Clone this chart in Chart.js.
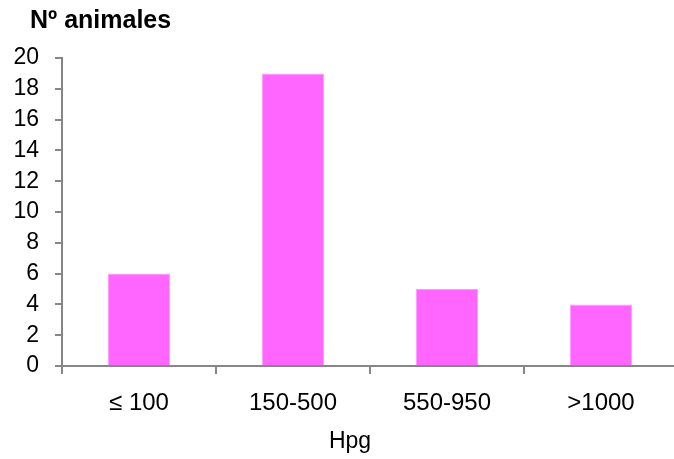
<!DOCTYPE html>
<html>
<head>
<meta charset="utf-8">
<script src="https://cdn.jsdelivr.net/npm/chart.js@4/dist/chart.umd.min.js"></script>
<style>
  html, body { margin: 0; padding: 0; background: #fff; overflow: hidden; }
  #wrap { width: 674px; height: 459px; overflow: hidden; }
</style>
</head>
<body>
<div id="wrap"><canvas id="chart" width="678" height="459"></canvas></div>
<script>
const categories = ['\u2264 100', '150-500', '550-950', '>1000'];
const animals = [6, 19, 5, 4];
const yTicks = [0, 2, 4, 6, 8, 10, 12, 14, 16, 18, 20];

const FONT = '"Liberation Sans", Arial, sans-serif';
const AXIS_GREY = '#868686';

// titles drawn by hand so they sit where the original had them
const titlesPlugin = {
    id: 'titles',
    afterDraw(chart) {
        const ctx = chart.ctx;
        const area = chart.chartArea;
        ctx.save();
        ctx.fillStyle = '#000';
        ctx.textBaseline = 'alphabetic';
        ctx.textAlign = 'left';
        ctx.font = 'bold 25px ' + FONT;
        ctx.fillText('N\u00ba animales', 30, 28);
        ctx.textAlign = 'center';
        ctx.font = '23px ' + FONT;
        ctx.fillText('Hpg', area.left + 288, area.bottom + 82);
        ctx.restore();
    }
};

new Chart(document.getElementById('chart'), {
    type: 'bar',
    data: {
        labels: categories,
        datasets: [{
            data: animals,
            backgroundColor: '#ff66ff',
            borderColor: '#ff99ff',
            borderWidth: 1,
            barPercentage: 1,
            categoryPercentage: 0.405,
        }],
    },
    options: {
        responsive: false,
        animation: false,
        layout: { padding: { top: 58, right: 0, left: 0, bottom: 0 } },
        plugins: {
            legend: { display: false },
            tooltip: { enabled: false },
        },
        scales: {
            x: {
                grid: {
                    display: true,
                    drawOnChartArea: false,
                    offset: true,
                    tickLength: 8,
                    color: AXIS_GREY,
                    lineWidth: 2,
                },
                border: { color: AXIS_GREY, width: 2 },
                ticks: {
                    color: '#000',
                    padding: 15,
                    font: { family: FONT, size: 24 },
                    maxRotation: 0,
                },
                afterFit(scale) { scale.height = 93; },
            },
            y: {
                min: 0,
                max: 20,
                afterBuildTicks(scale) { scale.ticks = yTicks.map(v => ({ value: v })); },
                grid: {
                    display: true,
                    drawOnChartArea: false,
                    tickLength: 7,
                    color: AXIS_GREY,
                    lineWidth: 2,
                },
                border: { color: AXIS_GREY, width: 2 },
                ticks: {
                    color: '#000',
                    padding: 16,
                    autoSkip: false,
                    font: { family: FONT, size: 23 },
                },
                afterFit(scale) { scale.width = 62; },
            },
        },
    },
    plugins: [titlesPlugin],
});
</script>
</body>
</html>
